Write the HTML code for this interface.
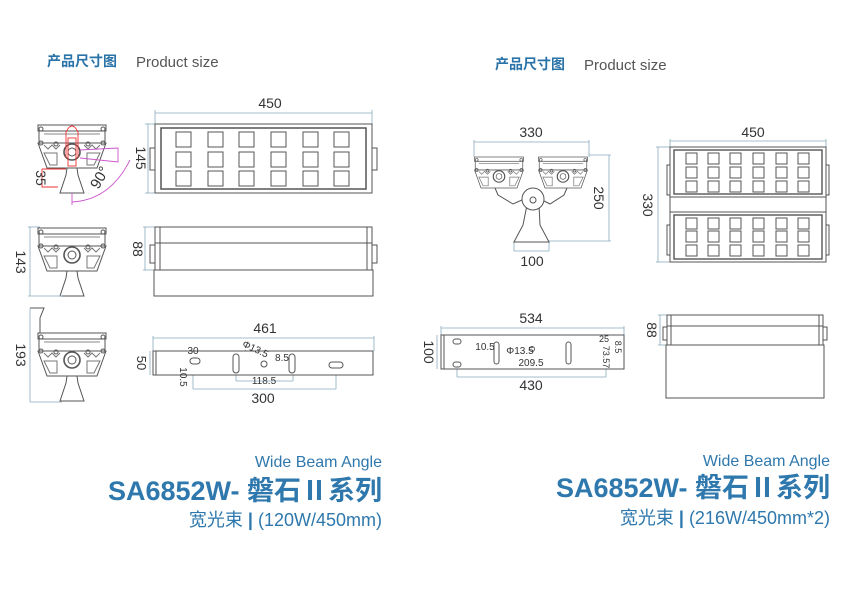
<!DOCTYPE html>
<html><head><meta charset="utf-8"><style>
body{margin:0;background:#fff;}
svg{display:block;}
text{font-family:"Liberation Sans","Noto Sans CJK SC",sans-serif;}
</style></head><body>
<svg width="865" height="607" viewBox="0 0 865 607" xmlns="http://www.w3.org/2000/svg">
<defs>
<g id="head" fill="none" stroke="#555" stroke-width="1">
  <rect x="-34" y="0" width="68" height="6" fill="#fff"/>
  <rect x="-33" y="6" width="66" height="12" fill="#fff"/>
  <line x1="-28" y1="9" x2="28" y2="9" stroke="#888"/>
  <polygon points="-34,18 34,18 25,43 -25,43" fill="#fff"/>
  <path d="M-28,20 l4,4 l4,-4 l4,4 l4,-4 M12,20 l4,4 l4,-4 l4,4 l4,-4" stroke="#777"/>
  <polygon points="-28,28 -15,28 -15,40 -22,40" stroke="#777"/>
  <polygon points="28,28 15,28 15,40 22,40" stroke="#777"/>
  <circle cx="-31" cy="4" r="2"/><circle cx="31" cy="4" r="2"/>
  <circle cx="-31" cy="18" r="2"/><circle cx="31" cy="18" r="2"/>
  <circle cx="-16" cy="19" r="2"/><circle cx="16" cy="19" r="2"/>
  <circle cx="0" cy="27" r="8" fill="#fff" stroke-width="1.6"/>
  <circle cx="0" cy="27" r="4"/>
</g>
<g id="stand" fill="#fff" stroke="#555" stroke-width="1">
  <polygon points="-4,36 4,36 6,50 12,68 -12,68 -6,50"/>
</g>
<g id="led"><rect width="15" height="15" fill="#fff" stroke="#555" stroke-width="1"/></g>
<g id="leds">
  <use href="#led" x="0" y="0"/><use href="#led" x="32" y="0"/><use href="#led" x="63" y="0"/><use href="#led" x="95" y="0"/><use href="#led" x="127" y="0"/><use href="#led" x="158" y="0"/>
</g>
<g id="led2"><rect width="11" height="11" fill="#fff" stroke="#555" stroke-width="1"/></g>
<g id="leds2">
  <use href="#led2" x="0" y="0"/><use href="#led2" x="22" y="0"/><use href="#led2" x="44" y="0"/><use href="#led2" x="67" y="0"/><use href="#led2" x="90" y="0"/><use href="#led2" x="112" y="0"/>
</g>
</defs>

<!-- headings -->
<text x="47" y="66" font-size="14" font-weight="bold" fill="#2a73a8">产品尺寸图</text>
<text x="136" y="67" font-size="15" fill="#555">Product size</text>
<text x="495" y="69" font-size="14" font-weight="bold" fill="#2a73a8">产品尺寸图</text>
<text x="584" y="70" font-size="15" fill="#555">Product size</text>

<g font-size="13" fill="#333">
<!-- LEFT side view 1 -->
<g transform="translate(72,125)"><use href="#stand"/><use href="#head"/></g>
<g fill="none" stroke="#e33" stroke-width="0.9">
  <path d="M66,158 L66,132 Q72,120 78,132 L78,158"/>
  <rect x="68" y="138" width="8" height="28"/>
  <path d="M42,169 L42,187 L58,187"/>
  <line x1="42" y1="169" x2="66" y2="169"/>
</g>
<g fill="none" stroke="#c5c" stroke-width="0.9">
  <path d="M80,150 L118,148 L118,162 L80,158"/>
  <path d="M72,202 Q110,200 130,160"/>
  <line x1="72" y1="193" x2="72" y2="205"/>
</g>
<text transform="translate(36,178) rotate(90)" text-anchor="middle" font-size="14">35</text>
<text transform="translate(104,180) rotate(-60)" text-anchor="middle" font-size="15">90°</text>

<!-- front view 450 -->
<g stroke="#8ab" stroke-width="0.8" fill="none">
  <line x1="155" y1="113" x2="372" y2="113"/><line x1="155" y1="110" x2="155" y2="124"/><line x1="372" y1="110" x2="372" y2="124"/>
  <line x1="148" y1="124" x2="148" y2="193"/><line x1="145" y1="124" x2="155" y2="124"/><line x1="145" y1="193" x2="155" y2="193"/>
</g>
<text x="270" y="108" text-anchor="middle" font-size="14">450</text>
<text transform="translate(136,158) rotate(90)" text-anchor="middle" font-size="14">145</text>
<g fill="#fff" stroke="#555">
  <rect x="150" y="148" width="6" height="22"/><rect x="371" y="148" width="6" height="22"/>
  <rect x="155" y="124" width="217" height="69"/>
  <rect x="161" y="128" width="205" height="61" stroke-width="1.5"/>
</g>
<g transform="translate(176,132)"><use href="#leds"/></g>
<g transform="translate(176,152)"><use href="#leds"/></g>
<g transform="translate(176,171)"><use href="#leds"/></g>

<!-- row 2 -->
<g transform="translate(72,228)"><use href="#stand"/><use href="#head"/></g>
<g stroke="#8ab" stroke-width="0.8" fill="none">
  <line x1="30" y1="227" x2="30" y2="296"/><line x1="28" y1="227" x2="40" y2="227"/><line x1="28" y1="296" x2="62" y2="296"/>
  <line x1="145" y1="227" x2="145" y2="270"/><line x1="143" y1="227" x2="155" y2="227"/><line x1="143" y1="270" x2="155" y2="270"/>
</g>
<text transform="translate(16,262) rotate(90)" text-anchor="middle" font-size="14">143</text>
<text transform="translate(133,249) rotate(90)" text-anchor="middle" font-size="14">88</text>
<g fill="#fff" stroke="#555">
  <rect x="154" y="270" width="219" height="26"/>
  <rect x="155" y="227" width="217" height="43"/>
  <line x1="155" y1="243" x2="372" y2="243"/>
  <line x1="160" y1="227" x2="160" y2="270"/><line x1="367" y1="227" x2="367" y2="270"/>
  <rect x="150" y="245" width="5" height="18"/><rect x="372" y="245" width="5" height="18"/>
</g>

<!-- row 3 -->
<g transform="translate(72,333)"><use href="#stand"/><use href="#head"/></g>
<path d="M30,308 L44,308 L40,318 L40,333" fill="none" stroke="#555"/>
<g stroke="#8ab" stroke-width="0.8" fill="none">
  <line x1="30" y1="308" x2="30" y2="402"/><line x1="30" y1="402" x2="62" y2="402"/>
</g>
<text transform="translate(16,355) rotate(90)" text-anchor="middle" font-size="14">193</text>

<!-- bracket 461 -->
<g stroke="#8ab" stroke-width="0.8" fill="none">
  <line x1="153" y1="338" x2="374" y2="338"/><line x1="153" y1="336" x2="153" y2="351"/><line x1="374" y1="336" x2="374" y2="351"/>
  <line x1="150" y1="351" x2="150" y2="375"/>
  <line x1="236" y1="381" x2="293" y2="381"/><line x1="236" y1="366" x2="236" y2="381"/><line x1="293" y1="366" x2="293" y2="381"/>
  <line x1="193" y1="389" x2="336" y2="389"/><line x1="193" y1="362" x2="193" y2="389"/><line x1="336" y1="368" x2="336" y2="389"/>
  <line x1="245" y1="350" x2="262" y2="363"/>
  <line x1="285" y1="364" x2="296" y2="364"/>
  <line x1="186" y1="357" x2="200" y2="357"/>
</g>
<rect x="153" y="351" width="220" height="24" fill="#fff" stroke="#555"/>
<line x1="156" y1="351" x2="156" y2="375" stroke="#555"/>
<g fill="#fff" stroke="#555">
  <rect x="190" y="358" width="10" height="6" rx="3"/>
  <rect x="233" y="354" width="6" height="19" rx="3"/>
  <rect x="289" y="354" width="6" height="19" rx="3"/>
  <circle cx="264" cy="364" r="3"/>
  <rect x="329" y="362" width="14" height="6" rx="3"/>
</g>
<text x="265" y="333" text-anchor="middle" font-size="14">461</text>
<text transform="translate(137,363) rotate(90)" text-anchor="middle" font-size="13">50</text>
<text x="193" y="354" text-anchor="middle" font-size="10">30</text>
<text transform="translate(180,377) rotate(90)" text-anchor="middle" font-size="10">10.5</text>
<text transform="translate(254,352) rotate(25)" text-anchor="middle" font-size="10">Φ13.5</text>
<text x="282" y="361" text-anchor="middle" font-size="10">8.5</text>
<text x="264" y="384" text-anchor="middle" font-size="10">118.5</text>
<text x="263" y="403" text-anchor="middle" font-size="14">300</text>

<!-- RIGHT double side view -->
<g stroke="#8ab" stroke-width="0.8" fill="none">
  <line x1="474" y1="142" x2="589" y2="142"/><line x1="474" y1="140" x2="474" y2="157"/><line x1="589" y1="140" x2="589" y2="157"/>
  <line x1="609" y1="155" x2="609" y2="241"/><line x1="589" y1="155" x2="611" y2="155"/><line x1="549" y1="241" x2="611" y2="241"/>
  <line x1="514" y1="251" x2="549" y2="251"/><line x1="514" y1="241" x2="514" y2="251"/><line x1="549" y1="241" x2="549" y2="251"/>
</g>
<text x="531" y="137" text-anchor="middle" font-size="14">330</text>
<text transform="translate(594,198) rotate(90)" text-anchor="middle" font-size="14">250</text>
<text x="532" y="266" text-anchor="middle" font-size="14">100</text>
<path d="M495,188 L498,195 L513,204 L522,200 M567,188 L564,195 L550,204 L542,200" fill="none" stroke="#555"/>
<polygon points="527,205 539,205 540,225 549,242 514,242 523,225" fill="#fff" stroke="#555"/>
<circle cx="533" cy="199" r="11" fill="#fff" stroke="#555"/>
<circle cx="533" cy="200" r="3" fill="none" stroke="#555"/>
<g transform="translate(499,157) scale(0.72)"><use href="#head"/></g>
<g transform="translate(563,157) scale(0.72)"><use href="#head"/></g>

<!-- double front view -->
<g stroke="#8ab" stroke-width="0.8" fill="none">
  <line x1="670" y1="141" x2="826" y2="141"/><line x1="670" y1="139" x2="670" y2="148"/><line x1="826" y1="139" x2="826" y2="148"/>
  <line x1="658" y1="147" x2="658" y2="262"/><line x1="656" y1="147" x2="670" y2="147"/><line x1="656" y1="262" x2="670" y2="262"/>
</g>
<text x="753" y="137" text-anchor="middle" font-size="14">450</text>
<text transform="translate(643,205) rotate(90)" text-anchor="middle" font-size="14">330</text>
<g fill="#fff" stroke="#555">
  <rect x="667" y="165" width="4" height="30"/><rect x="825" y="165" width="4" height="30"/>
  <rect x="667" y="225" width="4" height="30"/><rect x="825" y="225" width="4" height="30"/>
  <rect x="670" y="196" width="156" height="17"/>
  <rect x="670" y="147" width="156" height="50"/>
  <rect x="674" y="150" width="148" height="44" stroke-width="1.4"/>
  <rect x="670" y="212" width="156" height="50"/>
  <rect x="674" y="215" width="148" height="44" stroke-width="1.4"/>
</g>
<g transform="translate(686,153)"><use href="#leds2"/></g>
<g transform="translate(686,167)"><use href="#leds2"/></g>
<g transform="translate(686,181)"><use href="#leds2"/></g>
<g transform="translate(686,218)"><use href="#leds2"/></g>
<g transform="translate(686,231)"><use href="#leds2"/></g>
<g transform="translate(686,245)"><use href="#leds2"/></g>

<!-- bracket 534 -->
<g stroke="#8ab" stroke-width="0.8" fill="none">
  <line x1="441" y1="328" x2="624" y2="328"/><line x1="441" y1="326" x2="441" y2="335"/><line x1="624" y1="326" x2="624" y2="335"/>
  <line x1="437" y1="335" x2="437" y2="369"/>
  <line x1="457" y1="377" x2="606" y2="377"/><line x1="457" y1="362" x2="457" y2="377"/><line x1="606" y1="340" x2="606" y2="377"/>
  <line x1="496" y1="367" x2="569" y2="367"/>
  <line x1="483" y1="352" x2="497" y2="352"/>
  <line x1="508" y1="354" x2="532" y2="349"/>
  <line x1="611" y1="341" x2="611" y2="366"/>
</g>
<rect x="441" y="335" width="183" height="34" fill="#fff" stroke="#555"/>
<line x1="444" y1="335" x2="444" y2="369" stroke="#555"/>
<g fill="#fff" stroke="#555">
  <rect x="453" y="339" width="8" height="5" rx="2.5"/>
  <rect x="453" y="362" width="8" height="5" rx="2.5"/>
  <rect x="494" y="342" width="5" height="22" rx="2.5"/>
  <rect x="566" y="342" width="5" height="22" rx="2.5"/>
  <circle cx="532" cy="349" r="2.5"/>
</g>
<text x="531" y="323" text-anchor="middle" font-size="14">534</text>
<text transform="translate(424,352) rotate(90)" text-anchor="middle" font-size="14">100</text>
<text x="531" y="390" text-anchor="middle" font-size="14">430</text>
<text x="485" y="350" text-anchor="middle" font-size="10">10.5</text>
<text x="520" y="354" text-anchor="middle" font-size="10">Φ13.5</text>
<text x="531" y="366" text-anchor="middle" font-size="10">209.5</text>
<text x="604" y="342" text-anchor="middle" font-size="9">25</text>
<text transform="translate(603,357) rotate(90)" text-anchor="middle" font-size="9">73.57</text>
<text transform="translate(615,347) rotate(90)" text-anchor="middle" font-size="9">8.5</text>

<!-- right bottom view -->
<g stroke="#8ab" stroke-width="0.8" fill="none">
  <line x1="660" y1="315" x2="660" y2="345"/><line x1="658" y1="315" x2="668" y2="315"/><line x1="658" y1="345" x2="668" y2="345"/>
</g>
<text transform="translate(647,330) rotate(90)" text-anchor="middle" font-size="14">88</text>
<g fill="#fff" stroke="#555">
  <rect x="666" y="345" width="158" height="53"/>
  <rect x="667" y="315" width="156" height="30"/>
  <line x1="667" y1="326" x2="823" y2="326"/>
  <line x1="671" y1="315" x2="671" y2="345"/><line x1="819" y1="315" x2="819" y2="345"/>
  <rect x="663" y="327" width="4" height="13"/><rect x="823" y="327" width="4" height="13"/>
</g>
</g>

<!-- bottom titles -->
<g fill="#2e78ad" text-anchor="end">
  <text x="382" y="467" font-size="16">Wide Beam Angle</text>
  <text x="382" y="500" font-size="27" font-weight="bold">SA6852W- 磐石Ⅱ系列</text>
  <text x="382" y="526" font-size="18">宽光束 <tspan font-weight="bold">|</tspan> (120W/450mm)</text>
  <text x="830" y="466" font-size="16">Wide Beam Angle</text>
  <text x="830" y="497" font-size="27" font-weight="bold">SA6852W- 磐石Ⅱ系列</text>
  <text x="830" y="524" font-size="18">宽光束 <tspan font-weight="bold">|</tspan> (216W/450mm*2)</text>
</g>
</svg>
</body></html>
